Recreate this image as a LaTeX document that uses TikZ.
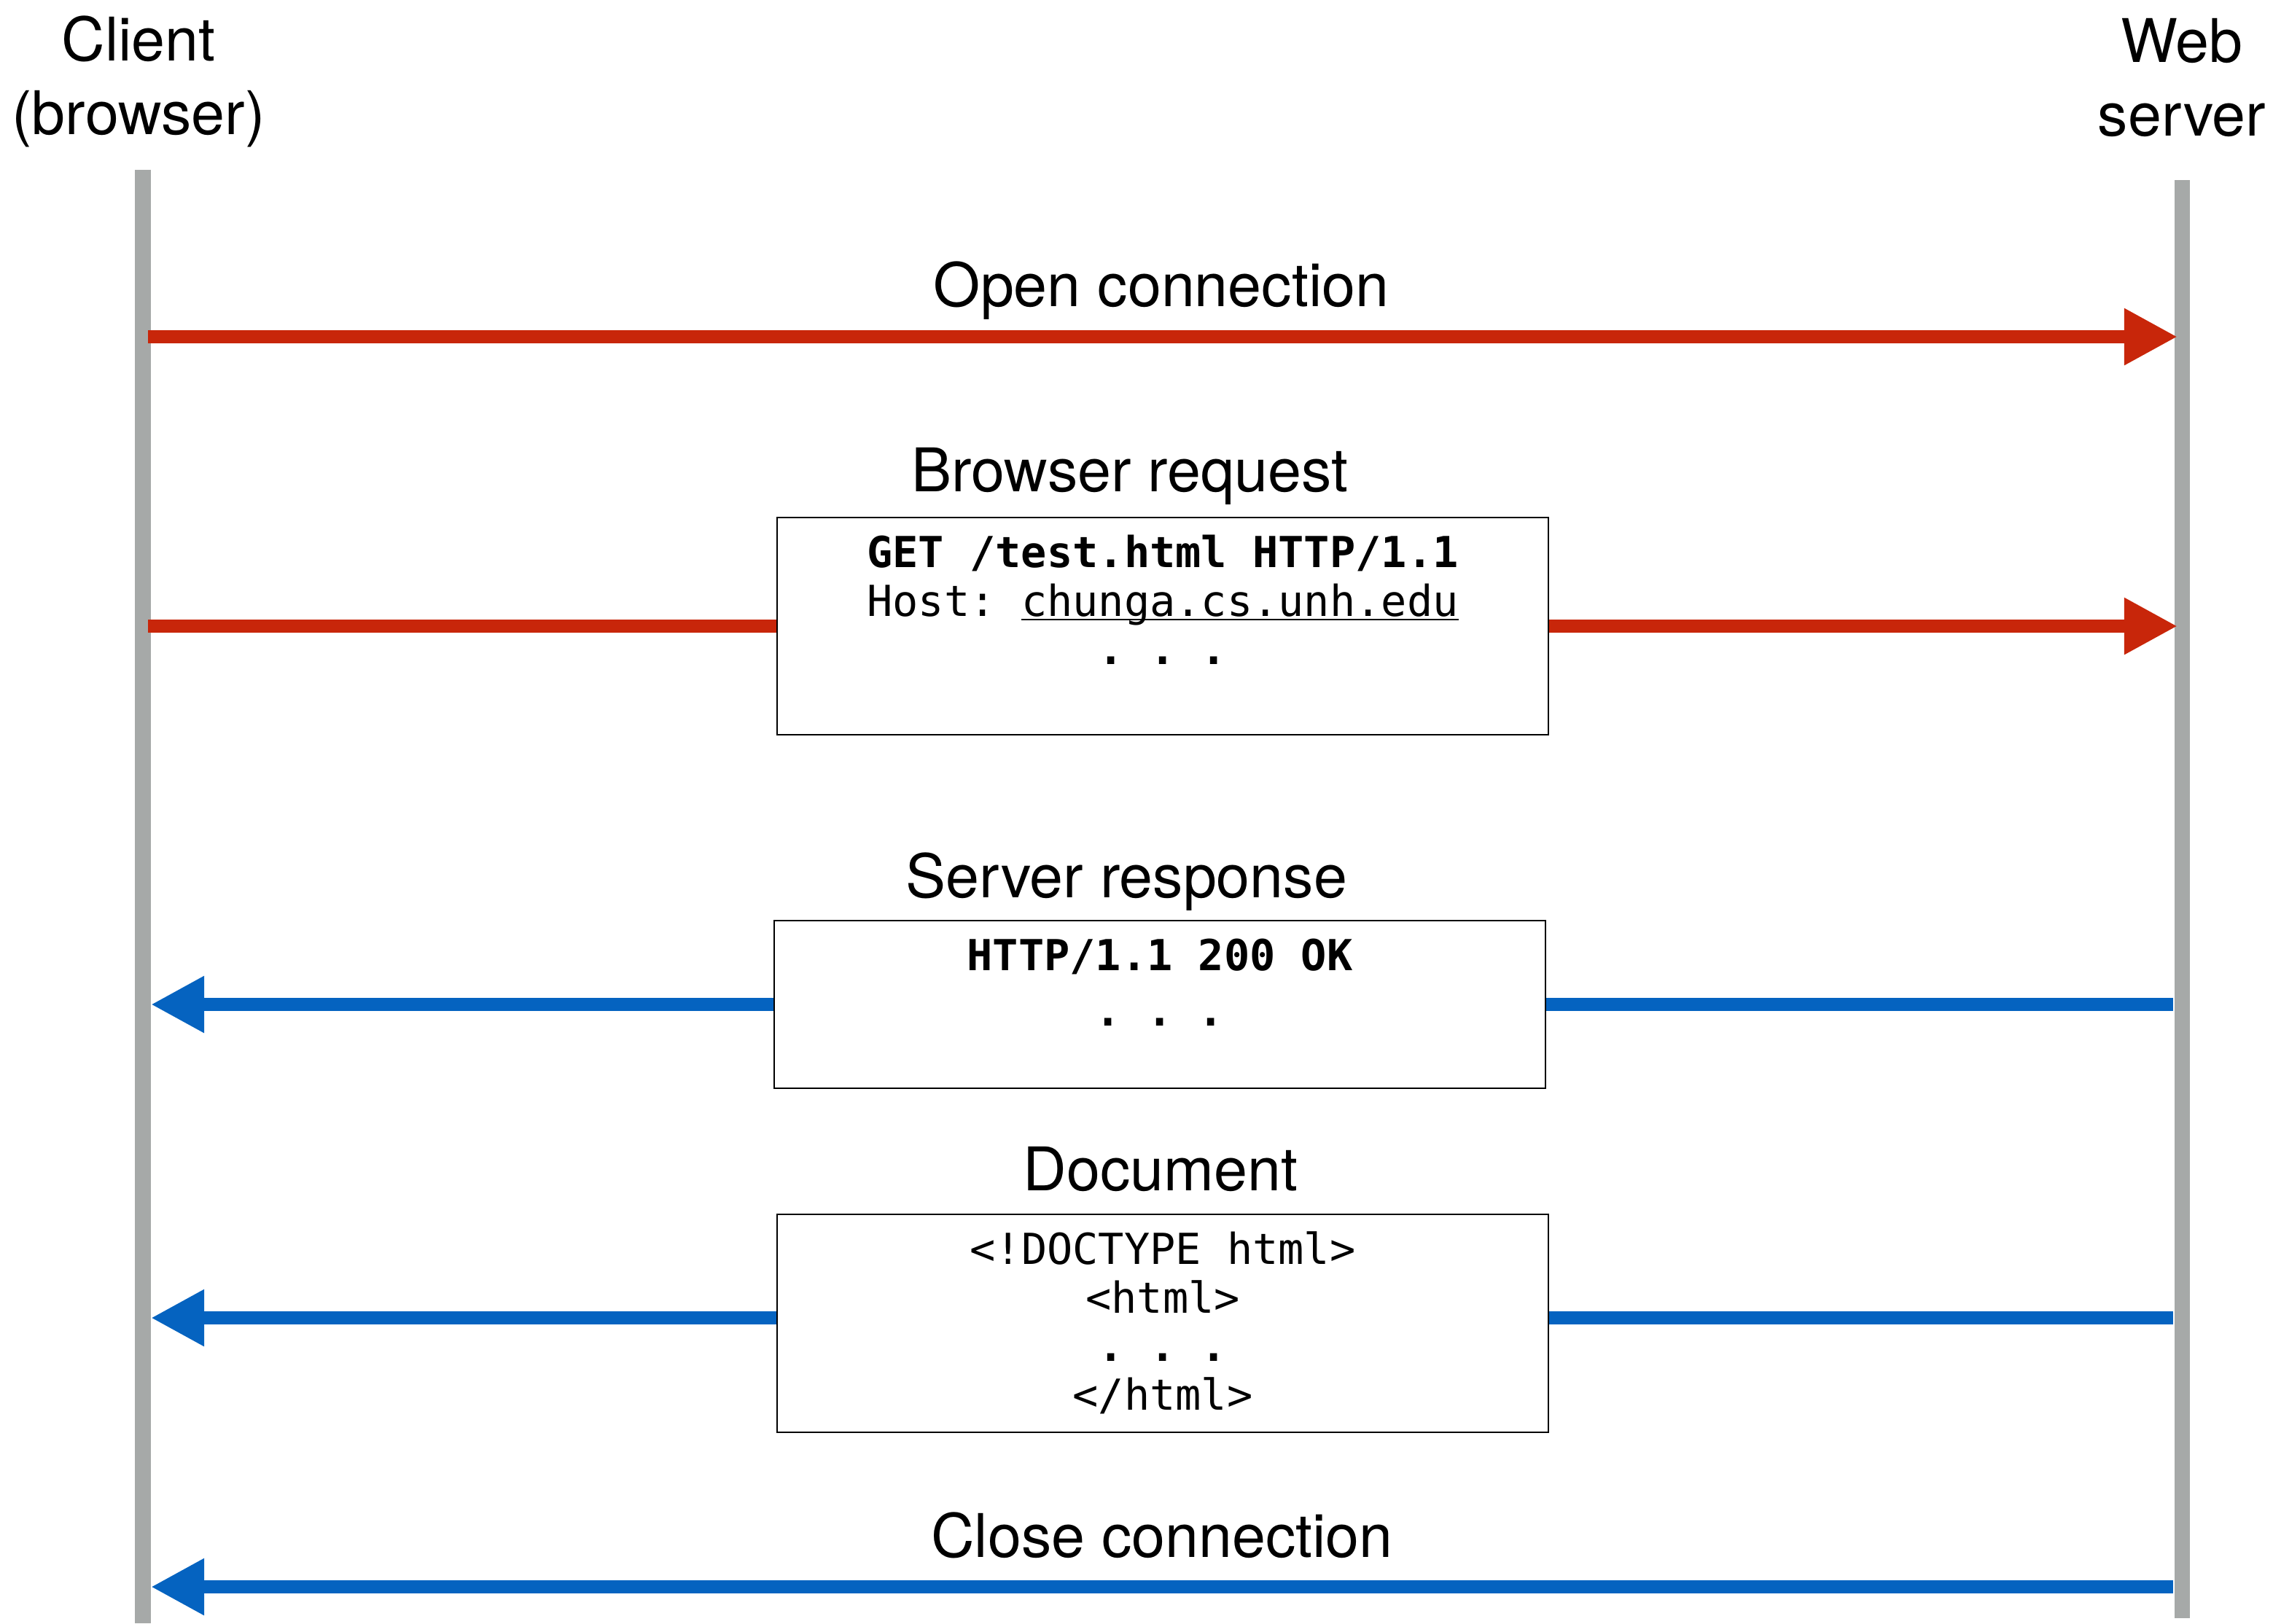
\documentclass[tikz,border=0pt]{standalone}
\usepackage{fontspec}
\setmainfont{TeX Gyre Heros}
\newfontfamily\codefont{DejaVu Sans Mono}
\usetikzlibrary{arrows.meta,positioning}

\definecolor{reqred}{RGB}{200,38,10}
\definecolor{respblue}{RGB}{5,99,192}
\definecolor{lifegray}{RGB}{166,169,168}

% subrayado pegado a la linea base
\newcommand{\hostlink}[1]{\setbox0\hbox{#1}\rlap{\rule[-1.8pt]{\wd0}{0.8pt}}\box0}

\tikzset{
  lifeline/.style={line width=6pt, color=lifegray},
  reqarrow/.style={line width=5.1pt, color=reqred},
  resparrow/.style={line width=5.1pt, color=respblue},
  bighead/.style={-{Triangle[length=20.8pt, width=20.8pt]}},
  msgbox/.style={draw, line width=0.7pt, minimum width=10.58cm, inner sep=0pt},
  msglabel/.style={anchor=base, inner sep=0pt, font=\fontsize{23.5}{28.7}\selectfont},
  actor/.style={anchor=north, inner sep=0pt, align=center, font=\fontsize{23.5}{28.7}\selectfont},
  codetext/.style={inner sep=0pt, align=center, font=\codefont\fontsize{16.67}{19}\selectfont\frenchspacing}
}

\begin{document}
\begin{tikzpicture}

    \useasboundingbox (0,0) rectangle (31.18,-22.27);

    % Lineas de vida
    \coordinate (clienttop) at (1.96,-2.33);
    \coordinate (clientbot) at (1.96,-22.27);
    \coordinate (servertop) at (29.93,-2.47);
    \coordinate (serverbot) at (29.93,-22.20);
    \draw[lifeline] (clienttop) -- (clientbot);
    \draw[lifeline] (servertop) -- (serverbot);

    % Actores
    \node[actor] (client) at (1.90,-0.12) {\strut Client\\(browser)};
    \node[actor] (server) at (29.93,-0.14) {\strut Web\\server};

    % Extremos de cada mensaje
    \foreach \name/\y/\xc/\xs in {open/4.62/2.03/29.87, req/8.59/2.03/29.87,
                                  resp/13.78/2.07/29.81, doc/18.08/2.07/29.81,
                                  close/21.77/2.07/29.81} {
        \coordinate (\name-c) at (\xc,-\y);
        \coordinate (\name-s) at (\xs,-\y);
    }

    % Cajas de los mensajes
    \node[msgbox, minimum height=2.98cm] (reqbox) at (15.95,-8.59) {};
    \node[msgbox, minimum height=2.30cm] (respbox) at (15.91,-13.78) {};
    \node[msgbox, minimum height=2.99cm] (docbox) at (15.95,-18.155) {};

    \node[codetext, below=0.22cm of reqbox.north] (reqtext)
        {\strut{\bfseries GET /test.html HTTP/1.1}\\Host: \hostlink{chunga.cs.unh.edu}\\{\bfseries . . .}};
    \node[codetext, below=0.22cm of respbox.north] (resptext)
        {\strut{\bfseries HTTP/1.1 200 OK}\\[0.09cm]{\bfseries . . .}};
    \node[codetext, below=0.22cm of docbox.north] (doctext)
        {\strut <!DOCTYPE html>\\<html>\\{\bfseries . . .}\\</html>};

    % Nombres de los mensajes
    \node[msglabel] (openlabel) at (15.93,-4.20) {Open connection};
    \node[msglabel] (reqlabel) at (15.50,-6.74) {Browser request};
    \node[msglabel] (resplabel) at (15.45,-12.31) {Server response};
    \node[msglabel] (doclabel) at (15.92,-16.33) {Document};
    \node[msglabel] (closelabel) at (15.94,-21.36) {Close connection};

    % Flechas rojas: del cliente al servidor
    \draw[reqarrow, bighead] (open-c) -- (open-s);
    \draw[reqarrow] (req-c) -- (req-c -| reqbox.west);
    \draw[reqarrow, bighead] (req-s -| reqbox.east) -- (req-s);

    % Flechas azules: del servidor al cliente
    \draw[resparrow] (resp-s) -- (resp-s -| respbox.east);
    \draw[resparrow, bighead] (resp-c -| respbox.west) -- (resp-c);
    \draw[resparrow] (doc-s) -- (doc-s -| docbox.east);
    \draw[resparrow, bighead] (doc-c -| docbox.west) -- (doc-c);
    \draw[resparrow, bighead] (close-s) -- (close-c);

\end{tikzpicture}
\end{document}
